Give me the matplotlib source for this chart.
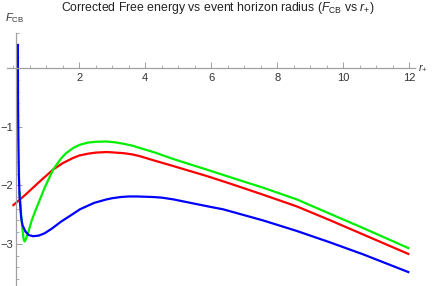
import matplotlib
matplotlib.use("Agg")
import matplotlib.pyplot as plt
from matplotlib.ticker import MultipleLocator, FixedLocator

plt.rcParams['font.family'] = ['Liberation Sans', 'DejaVu Sans']
plt.rcParams['mathtext.fontset'] = 'custom'
plt.rcParams['mathtext.rm'] = 'Liberation Sans'
plt.rcParams['mathtext.it'] = 'Liberation Sans:italic'

# values
r_red = [-0.02, 0.37, 0.81, 1.21, 1.5, 1.82, 2.0, 2.25, 2.5, 2.83, 3.1, 3.35,
         3.6, 3.83, 4.3, 4.85, 5.86, 6.57, 7.57, 8.59, 9.57, 10.6, 12.0]
F_red = [-2.35, -2.16, -1.93, -1.73, -1.62, -1.53, -1.49, -1.46, -1.44, -1.43,
         -1.44, -1.45, -1.47, -1.50, -1.58, -1.67, -1.84, -1.97, -2.16, -2.36,
         -2.59, -2.84, -3.18]

r_green = [0.19, 0.215, 0.24, 0.28, 0.31, 0.345, 0.385, 0.467, 0.56, 0.667,
           0.81, 0.96, 1.21, 1.45, 1.6, 1.82, 2.0, 2.25, 2.5, 2.83, 3.1, 3.35,
           3.6, 3.83, 4.3, 4.85, 5.86, 6.57, 7.57, 8.59, 9.57, 10.6, 12.0]
F_green = [-2.1, -2.3, -2.5, -2.75, -2.9, -2.96, -2.92, -2.78, -2.6, -2.44,
           -2.24, -2.03, -1.73, -1.54, -1.45, -1.36, -1.31, -1.27, -1.255,
           -1.25, -1.265, -1.29, -1.32, -1.36, -1.44, -1.55, -1.73, -1.86,
           -2.04, -2.24, -2.48, -2.73, -3.08]

r_blue = [0.14, 0.145, 0.155, 0.17, 0.19, 0.24, 0.28, 0.37, 0.47, 0.6, 0.77,
          0.95, 1.17, 1.45, 1.78, 2.02, 2.45, 2.83, 3.0, 3.25, 3.5, 3.75, 4.0,
          4.25, 4.5, 4.85, 5.2, 5.55, 5.9, 6.36, 7.57, 8.59, 9.57, 10.6, 12.0]
F_blue = [0.42, -0.5, -1.2, -1.8, -2.16, -2.55, -2.68, -2.79, -2.85, -2.87,
          -2.86, -2.82, -2.74, -2.62, -2.5, -2.41, -2.3, -2.24, -2.22, -2.2,
          -2.19, -2.19, -2.195, -2.2, -2.21, -2.24, -2.28, -2.32, -2.36, -2.41,
          -2.6, -2.78, -2.97, -3.18, -3.49]

xticks = [2, 4, 6, 8, 10, 12]
yticks = [-1, -2, -3]

fig = plt.figure(figsize=(4.36, 2.86), dpi=100)
ax = fig.add_axes([0.0167, 0.0003, 0.935, 0.885])

ax.plot(r_red, F_red, color='#ff0000', lw=1.6, solid_capstyle='butt')
ax.plot(r_green, F_green, color='#00ee00', lw=1.6, solid_capstyle='butt')
ax.plot(r_blue, F_blue, color='#0000ff', lw=1.6, solid_capstyle='butt')

ax.set_xlim(-0.18, 12.17)
ax.set_ylim(-3.72, 0.609)

for s in ['top', 'right']:
    ax.spines[s].set_visible(False)
ax.spines['bottom'].set_position(('data', 0))
ax.spines['left'].set_position(('data', 0.07))
for s in ['bottom', 'left']:
    ax.spines[s].set_color('#a0a0a0')
    ax.spines[s].set_linewidth(0.9)

ax.xaxis.set_major_locator(FixedLocator(xticks))
ax.xaxis.set_minor_locator(MultipleLocator(0.5))
ax.yaxis.set_major_locator(FixedLocator(yticks))
ax.yaxis.set_minor_locator(MultipleLocator(0.2))
ax.set_yticklabels(['\u22121', '\u22122', '\u22123'])
ax.tick_params(which='major', direction='in', length=4, width=0.7,
               color='#a0a0a0', labelsize=8, labelcolor='#333333', pad=2)
ax.tick_params(which='minor', direction='in', length=2.2, width=0.6,
               color='#a0a0a0')
ax.tick_params(axis='x', which='major', pad=3)

fig.text(0.5, 0.972, 'Corrected Free energy vs event horizon radius ($F_{\\mathrm{CB}}$ vs $r_{+}$)',
         ha='center', va='center', fontsize=8.8, color='#222222')
fig.text(0.012, 0.935, '$F_{\\mathrm{CB}}$', ha='left', va='center', fontsize=8,
         color='#333333')
fig.text(0.958, 0.762, '$r_{+}$', ha='left', va='center', fontsize=8,
         color='#333333')

fig.savefig('out.png', dpi=100)
